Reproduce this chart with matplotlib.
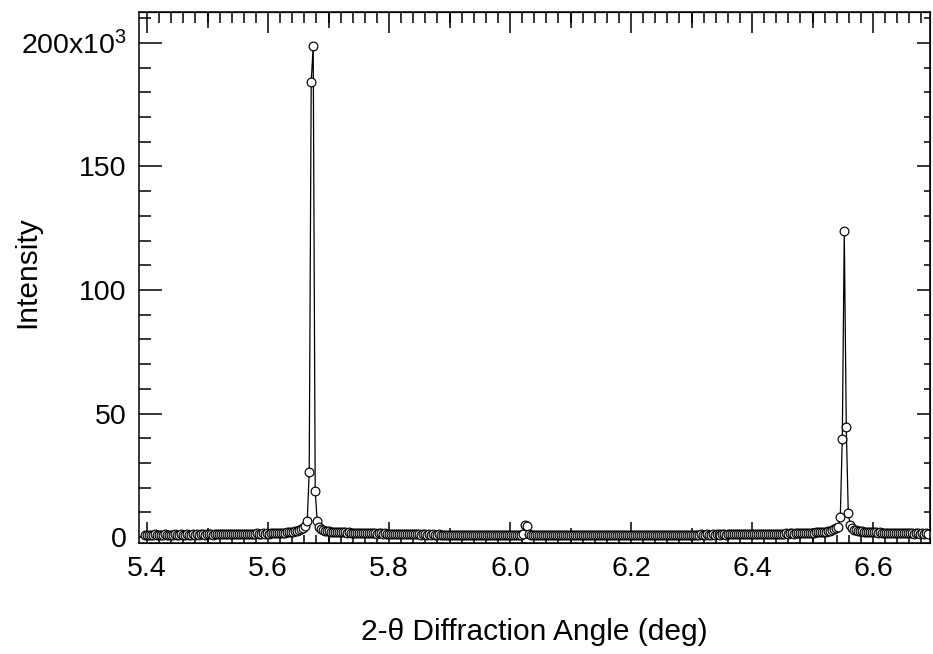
import numpy as np
import matplotlib.pyplot as plt
from matplotlib.ticker import MultipleLocator, NullLocator

plt.rcParams['font.family'] = ['Liberation Sans', 'DejaVu Sans']
plt.rcParams['mathtext.fontset'] = 'custom'
plt.rcParams['mathtext.rm'] = 'Liberation Sans'
plt.rcParams['mathtext.it'] = 'Liberation Sans:italic'

# scan grid (deg)
scan_start = 5.3975
scan_step = 0.0033

# intensity in units of 10^3 counts, one value per scan point
intensity_k = [
    0.9, 1.0, 0.8, 1.0, 0.9, 1.1, 0.9, 1.0, 0.8, 1.0,
    1.1, 0.9, 1.0, 1.0, 0.9, 1.1, 1.0, 0.9, 1.1, 1.0,
    1.0, 1.1, 0.9, 1.0, 1.2, 1.0, 1.1, 1.0, 1.1, 1.2,
    1.0, 1.1, 1.2, 1.1, 1.0, 1.2, 1.1, 1.2, 1.1, 1.3,
    1.2, 1.1, 1.3, 1.2, 1.2, 1.3, 1.1, 1.3, 1.2, 1.4,
    1.3, 1.2, 1.4, 1.3, 1.4, 1.3, 1.5, 1.4, 1.3, 1.5,
    1.4, 1.5, 1.4, 1.6, 1.5, 1.5, 1.6, 1.7, 1.6, 1.8,
    1.8, 1.9, 2.0, 2.1, 2.2, 2.4, 2.6, 2.9, 3.3, 3.8,
    4.5, 6.5, 26.3, 184.2, 198.8, 18.6, 6.5, 4.0, 3.3, 2.9,
    2.6, 2.4, 2.3, 2.2, 2.1, 2.1, 2.0, 2.0, 1.9, 2.0,
    1.9, 1.8, 1.9, 1.8, 1.7, 1.8, 1.7, 1.8, 1.6, 1.7,
    1.6, 1.7, 1.5, 1.6, 1.5, 1.6, 1.4, 1.5, 1.5, 1.4,
    1.5, 1.3, 1.4, 1.4, 1.3, 1.4, 1.2, 1.3, 1.3, 1.2,
    1.3, 1.2, 1.1, 1.2, 1.2, 1.1, 1.2, 1.1, 1.0, 1.1,
    1.1, 1.0, 1.1, 1.0, 1.1, 0.9, 1.0, 1.1, 1.0, 0.9,
    1.0, 0.9, 1.0, 1.0, 0.9, 1.0, 0.8, 0.9, 1.0, 0.9,
    0.9, 1.0, 0.8, 0.9, 0.9, 1.0, 0.8, 0.9, 1.0, 0.8,
    0.9, 0.8, 0.9, 1.0, 0.8, 0.9, 0.8, 0.9, 0.9, 0.8,
    0.9, 0.8, 1.0, 0.9, 0.8, 0.9, 0.9, 1.0, 1.0, 1.2,
    4.9, 4.5, 1.1, 0.9, 0.8, 0.9, 0.8, 0.9, 0.8, 0.9,
    0.8, 0.9, 0.7, 0.8, 0.9, 0.8, 0.8, 0.7, 0.9, 0.8,
    0.8, 0.9, 0.8, 0.7, 0.8, 0.9, 0.8, 0.8, 0.7, 0.8,
    0.9, 0.8, 0.8, 0.9, 0.7, 0.8, 0.8, 0.9, 0.8, 0.8,
    0.8, 0.9, 0.8, 0.9, 0.8, 0.7, 0.8, 0.9, 0.8, 0.9,
    0.8, 0.9, 0.9, 0.8, 0.9, 0.8, 0.9, 0.8, 0.9, 0.9,
    0.8, 0.9, 1.0, 0.9, 0.8, 0.9, 0.9, 1.0, 0.9, 0.8,
    0.9, 1.0, 0.9, 0.9, 1.0, 0.9, 0.8, 0.9, 1.0, 0.9,
    1.0, 0.9, 1.0, 0.9, 1.0, 1.0, 0.9, 1.0, 1.1, 1.0,
    1.0, 1.1, 1.0, 1.0, 1.1, 1.0, 1.1, 1.1, 1.0, 1.1,
    1.1, 1.0, 1.1, 1.2, 1.1, 1.1, 1.2, 1.1, 1.2, 1.1,
    1.2, 1.2, 1.1, 1.2, 1.3, 1.2, 1.2, 1.3, 1.2, 1.3,
    1.3, 1.2, 1.3, 1.4, 1.3, 1.3, 1.4, 1.3, 1.4, 1.4,
    1.4, 1.5, 1.4, 1.5, 1.5, 1.4, 1.6, 1.5, 1.6, 1.6,
    1.7, 1.6, 1.7, 1.8, 1.7, 1.8, 1.9, 1.9, 2.0, 2.1,
    2.1, 2.2, 2.4, 2.6, 2.9, 3.3, 3.7, 4.2, 8.0, 39.8,
    123.8, 44.5, 9.6, 4.9, 3.6, 3.0, 2.7, 2.5, 2.4, 2.3,
    2.2, 2.2, 2.1, 2.0, 2.0, 1.9, 1.9, 1.8, 1.9, 1.8,
    1.8, 1.7, 1.8, 1.7, 1.7, 1.6, 1.7, 1.6, 1.6, 1.5,
    1.6, 1.5, 1.5, 1.6, 1.5, 1.4, 1.5, 1.5, 1.4, 1.5,
    1.4, 1.5, 1.4,
]
angle = scan_start + scan_step * np.arange(len(intensity_k))

x_major = [5.4, 5.6, 5.8, 6.0, 6.2, 6.4, 6.6]
x_labels = ['5.4', '5.6', '5.8', '6.0', '6.2', '6.4', '6.6']
x_mid = [5.5, 5.7, 5.9, 6.1, 6.3, 6.5]
y_major = [0, 50, 100, 150, 200]
y_labels = ['0', '50', '100', '150', r'200x10$^{3}$']

fig = plt.figure(figsize=(9.33, 6.54), dpi=100)
ax = fig.add_axes([0.149, 0.1697, 0.8478, 0.8119])

ax.plot(angle, intensity_k, color='black', lw=0.9, marker='o', ms=6.3,
        mfc='white', mec='black', mew=0.85)

ax.set_xlim(5.3868, 6.6942)
ax.set_ylim(-2.4, 212.5)

for s in ax.spines.values():
    s.set_linewidth(1.1)

ax.set_xticks(x_major)
ax.set_xticklabels(x_labels)
ax.xaxis.set_minor_locator(MultipleLocator(0.02))
ax.set_yticks(y_major)
ax.set_yticklabels(y_labels)
ax.yaxis.set_minor_locator(MultipleLocator(10))

ax.tick_params(axis='x', which='major', direction='in', length=15, width=1.1,
               labelsize=20.5, pad=9, top=False)
ax.tick_params(axis='x', which='minor', direction='in', length=5.5, width=1.1, top=False)
ax.tick_params(axis='y', which='major', direction='in', length=16.5, width=1.1,
               labelsize=20.5, pad=9, right=False)
ax.tick_params(axis='y', which='minor', direction='in', length=8.6, width=1.1, right=False)

# medium ticks on bottom
bot_mid = ax.secondary_xaxis('bottom')
bot_mid.set_xticks(x_mid)
bot_mid.set_xticklabels([])
bot_mid.xaxis.set_minor_locator(NullLocator())
bot_mid.tick_params(direction='in', length=11, width=1.1)

# mirror ticks on top
top_ax = ax.secondary_xaxis('top')
top_ax.set_xticks(x_major)
top_ax.set_xticklabels([])
top_ax.xaxis.set_minor_locator(MultipleLocator(0.02))
top_ax.tick_params(which='major', direction='in', length=15, width=1.1)
top_ax.tick_params(which='minor', direction='in', length=8, width=1.1)

top_mid = ax.secondary_xaxis('top')
top_mid.set_xticks(x_mid)
top_mid.set_xticklabels([])
top_mid.xaxis.set_minor_locator(NullLocator())
top_mid.tick_params(direction='in', length=11.5, width=1.1)

# mirror ticks on right
right_ax = ax.secondary_yaxis('right')
right_ax.set_yticks(y_major)
right_ax.set_yticklabels([])
right_ax.yaxis.set_minor_locator(MultipleLocator(10))
right_ax.tick_params(which='major', direction='in', length=9.4, width=1.1)
right_ax.tick_params(which='minor', direction='in', length=4.3, width=1.1)

ax.set_xlabel('2-\u03b8 Diffraction Angle (deg)', fontsize=21.5, va='center')
ax.xaxis.set_label_coords(0.5, -0.1676)
ax.set_ylabel('Intensity', fontsize=21.5, va='center')
ax.yaxis.set_label_coords(-0.1416, 0.51)

fig.savefig('out.png', dpi=100)
